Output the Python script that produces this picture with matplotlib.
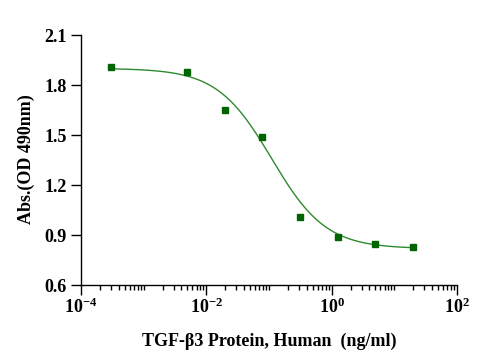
import numpy as np
import matplotlib
matplotlib.use("Agg")
import matplotlib.pyplot as plt
from matplotlib.ticker import FixedLocator, LogLocator, NullFormatter

# Data (concentration in ng/ml, absorbance)
conc = [0.000305, 0.004883, 0.01953, 0.078125, 0.3125, 1.25, 5.0, 20.0]
absorb = [1.908, 1.878, 1.650, 1.490, 1.008, 0.888, 0.846, 0.830]

# 4PL fit parameters
top = 1.90
bottom = 0.818
ec50 = 0.11
hill = 1.0

xticks = [1e-4, 1e-2, 1e0, 1e2]
xticklabels = [r'$\mathbf{10^{-4}}$', r'$\mathbf{10^{-2}}$', r'$\mathbf{10^{0}}$', r'$\mathbf{10^{2}}$']
yticks = [0.6, 0.9, 1.2, 1.5, 1.8, 2.1]

plt.rcParams['font.family'] = ['Liberation Serif', 'DejaVu Serif']
plt.rcParams['font.weight'] = 'bold'
plt.rcParams['mathtext.fontset'] = 'custom'
plt.rcParams['mathtext.bf'] = 'Liberation Serif:bold'
plt.rcParams['mathtext.rm'] = 'Liberation Serif:bold'

fig = plt.figure(figsize=(4.78, 3.55), dpi=100)
ax = fig.add_axes([81/478, 1-285/355, (457-81)/478, (285-35)/355])

xs = np.logspace(np.log10(min(conc)), np.log10(max(conc)), 300)
ys = bottom + (top - bottom) / (1 + (xs / ec50) ** hill)
ax.plot(xs, ys, color='#2f8a2f', lw=1.0, zorder=2)
ax.plot(conc, absorb, 's', color='#006400', ms=4.5, zorder=3, mec='#006400')

ax.set_xscale('log')
ax.set_xlim(1e-4, 1e2)
ax.set_ylim(0.6, 2.1)
ax.xaxis.set_major_locator(FixedLocator(xticks))
ax.set_xticklabels(xticklabels)
ax.xaxis.set_minor_locator(LogLocator(base=10, subs=np.arange(1, 10), numticks=20))
ax.xaxis.set_minor_formatter(NullFormatter())
ax.set_yticks(yticks)
ax.set_yticklabels([f'{v:.1f}' for v in yticks])

for s in ['top', 'right']:
    ax.spines[s].set_visible(False)
for s in ['left', 'bottom']:
    ax.spines[s].set_linewidth(1.0)

ax.tick_params(axis='both', which='major', length=7, width=1, labelsize=13, pad=3)
ax.tick_params(axis='x', which='minor', length=3.5, width=1)
ax.tick_params(axis='x', which='major', length=7, pad=2)

ax.set_xlabel('TGF-β3 Protein, Human  (ng/ml)', fontsize=13, fontweight='bold')
ax.set_ylabel('Abs.(OD 490nm)', fontsize=13, fontweight='bold')
ax.xaxis.set_label_coords(0.5, -0.19)
ax.yaxis.set_label_coords(-0.122, 0.504)

fig.savefig('out.png', dpi=100)
